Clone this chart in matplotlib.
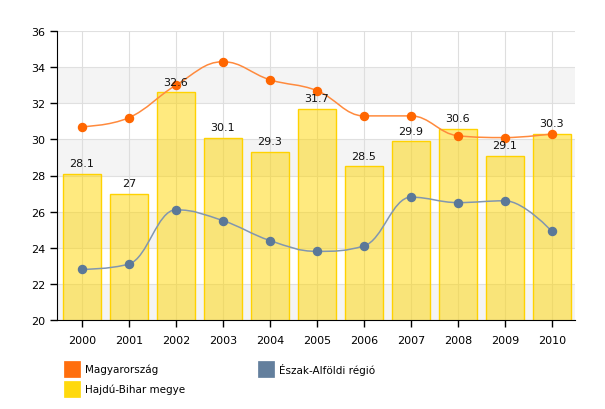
import numpy as np
import matplotlib
matplotlib.use("Agg")
import matplotlib.pyplot as plt
from matplotlib.path import Path
from matplotlib.patches import PathPatch, Rectangle

years = ["2000", "2001", "2002", "2003", "2004", "2005", "2006", "2007", "2008", "2009", "2010"]
hajdu = [28.1, 27, 32.6, 30.1, 29.3, 31.7, 28.5, 29.9, 30.6, 29.1, 30.3]
magyar = [30.7, 31.2, 33.0, 34.3, 33.3, 32.7, 31.3, 31.3, 30.2, 30.1, 30.3]
eszak = [22.8, 23.1, 26.1, 25.5, 24.4, 23.8, 24.1, 26.8, 26.5, 26.6, 24.9]

plt.rcParams['font.family'] = ['DejaVu Sans']

fig = plt.figure(figsize=(6.05, 4.10), dpi=100)
ax = fig.add_axes([57/605, 1-321/410, (575-57)/605, (321-32)/410])

x = np.arange(len(years))
ax.set_xlim(-0.53, 10.49)
ax.set_ylim(20, 36)

# alternating bands
for lo in (20, 24, 28, 32):
    ax.axhspan(lo, lo+2, color='#f4f4f4', zorder=0, lw=0)
for yv in range(20, 37, 2):
    ax.axhline(yv, color='#e0e0e0', lw=0.8, zorder=0.5)
for xi in x:
    ax.axvline(xi, color='#dedede', lw=0.8, zorder=0.6)

ax.bar(x, hajdu, width=0.81, bottom=0, color=(1.0, 0.84, 0.0, 0.5),
       edgecolor='#FFD200', linewidth=1, zorder=2)
for xi, v in zip(x, hajdu):
    ax.annotate(f"{v:g}", (xi, v), xytext=(0, 4), textcoords='offset points',
                ha='center', va='bottom', fontsize=8, color='#111111', zorder=6)


def spline_path(xs, ys):
    n = len(xs)
    lc = [None]*n
    rc = [None]*n
    for i in range(n):
        px, py = xs[i], ys[i]
        if i == 0 or i == n-1:
            lc[i] = (px, py); rc[i] = (px, py); continue
        lx, ly = xs[i-1], ys[i-1]
        nx, ny = xs[i+1], ys[i+1]
        s, d = 1.5, 2.5
        lcx = (s*px + lx)/d; lcy = (s*py + ly)/d
        rcx = (s*px + nx)/d; rcy = (s*py + ny)/d
        if rcx != lcx:
            corr = ((rcy - lcy)*(rcx - px))/(rcx - lcx) + py - rcy
            lcy += corr; rcy += corr
        if lcy > ly and lcy > py:
            lcy = max(ly, py); rcy = 2*py - lcy
        elif lcy < ly and lcy < py:
            lcy = min(ly, py); rcy = 2*py - lcy
        if rcy > ny and rcy > py:
            rcy = max(ny, py); lcy = 2*py - rcy
        elif rcy < ny and rcy < py:
            rcy = min(ny, py); lcy = 2*py - rcy
        lc[i] = (lcx, lcy); rc[i] = (rcx, rcy)
    verts = [(xs[0], ys[0])]
    codes = [Path.MOVETO]
    for i in range(1, n):
        verts += [rc[i-1], lc[i], (xs[i], ys[i])]
        codes += [Path.CURVE4]*3
    return Path(verts, codes)


for data, lcol, mcol in ((eszak, '#8196b0', '#5b7898'), (magyar, '#ff8a3d', '#ff6600')):
    p = spline_path(list(x.astype(float)), data)
    ax.add_patch(PathPatch(p, facecolor='none', edgecolor=lcol, lw=1.1, zorder=4))
    ax.plot(x, data, 'o', color=mcol, ms=5.8, zorder=5, mec=mcol)

ax.set_yticks(range(20, 37, 2))
ax.set_xticks(x)
ax.set_xticklabels(years)
ax.tick_params(axis='both', labelsize=8, colors='#000000', length=5, width=1, direction='out')
ax.tick_params(axis='x', pad=6)
for s in ('top', 'right'):
    ax.spines[s].set_visible(False)
ax.spines['left'].set_color('#000000')
ax.spines['bottom'].set_color('#000000')
ax.spines['left'].set_zorder(7)
ax.spines['bottom'].set_zorder(7)

# legend
W, H = 605, 410
items = [("Magyarország", '#ff6600', 64, 362), ("Észak-Alföldi régió", '#5b7898', 258, 362),
         ("Hajdú-Bihar megye", '#ffd700', 64, 382)]
for label, col, px, py in items:
    fig.patches.append(Rectangle((px/W, 1-(py+16)/H), 16/W, 16/H, transform=fig.transFigure,
                                 facecolor=col, edgecolor=col, lw=0.5, alpha=0.95))
    fig.text((px+21)/W, 1-(py+8)/H, label, fontsize=7.5, va='center', ha='left', color='#000000')

fig.savefig("out.png", dpi=100)
